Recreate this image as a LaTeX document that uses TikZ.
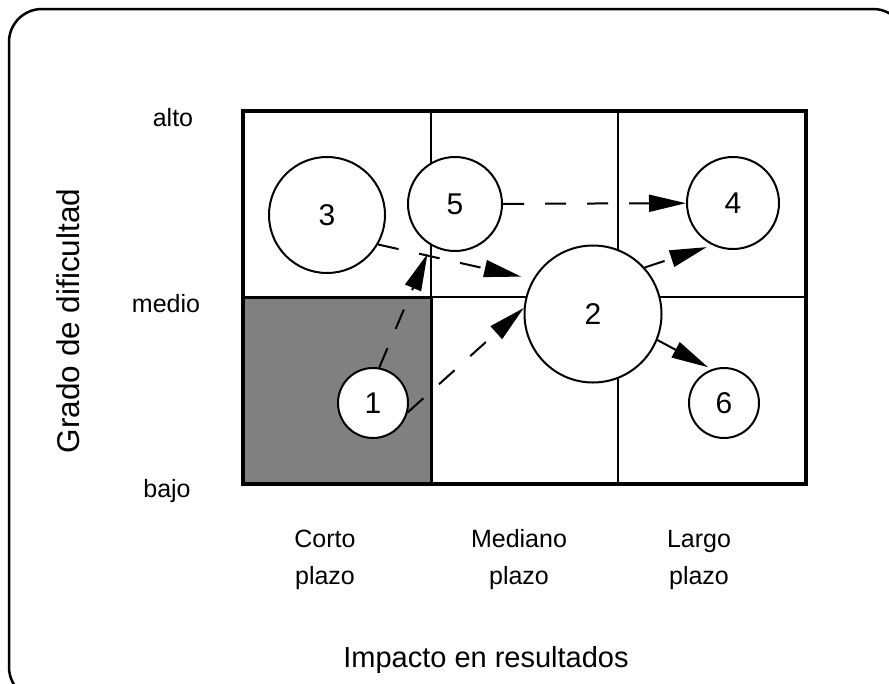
\documentclass[tikz,border=0pt]{standalone}
\usepackage{fontspec}
\setmainfont{Liberation Sans}
\usetikzlibrary{arrows.meta}
\definecolor{cellgray}{RGB}{128,128,128}
\tikzset{
  bub/.style={circle,draw,line width=2pt,fill=white,inner sep=0pt,font=\fontsize{30}{34}\selectfont},
  arr/.style={line width=2pt,dash pattern=on 21pt off 21pt,-{Triangle[length=37pt,width=17pt]}},
  lbl/.style={font=\fontsize{25}{37}\selectfont,align=center},
  ttl/.style={font=\fontsize{29}{34}\selectfont}
}
\begin{document}
\begin{tikzpicture}[x=1pt,y=-1pt]
\useasboundingbox (0,0) rectangle (889,683);
\clip (0,0) rectangle (889,683);
\fill[white] (0,0) rectangle (889,683);
\draw[line width=2.5pt,rounded corners=33pt] (9,9) rectangle (906,700);
% shaded cell
\fill[cellgray] (243,297) rectangle (431,484);
% inner lines
\draw[line width=2pt] (431,111) -- (431,484);
\draw[line width=2pt] (618,111) -- (618,484);
\draw[line width=2pt] (243,297) -- (806,297);
\draw[line width=3pt] (243,297) -- (431,297) -- (431,484);
% outer grid border
\draw[line width=4pt] (243,111) rectangle (806,484);
% bubbles
\node[bub,minimum size=116pt] (n3) at (327,215) {3};
\node[bub,minimum size=94pt] (n5) at (455,204) {5};
\node[bub,minimum size=92pt] (n4) at (733,203) {4};
\node[bub,minimum size=137pt] (n2) at (593,314) {2};
\node[bub,minimum size=70pt] (n1) at (373,403) {1};
\node[bub,minimum size=70pt] (n6) at (724,403) {6};
% arrows
\draw[arr] (n5) -- (n4);
\draw[arr,shorten >=12pt] (n3.-30) -- (n2.150);
\draw[arr,shorten >=9pt] (n1.80) -- (n5.240);
\draw[arr] (n1.-15) -- (n2.175);
\draw[arr,shorten >=6pt] (n2.42) -- (n4.244);
\draw[arr,shorten >=4pt] (n2.-22) -- (n6.110);
% labels
\node[lbl] (alto) at (173,118) {alto};
\node[lbl] (medio) at (166,304) {medio};
\node[lbl] (bajo) at (167,491) {bajo};
\node[lbl] (corto) at (325,560) {Corto\\plazo};
\node[lbl] (mediano) at (519,560) {Mediano\\plazo};
\node[lbl] (largo) at (699,560) {Largo\\plazo};
\node[ttl] (impacto) at (486,660) {Impacto en resultados};
\node[ttl,rotate=90,font=\fontsize{31.5}{36}\selectfont] (grado) at (68,321) {Grado de dificultad};
\end{tikzpicture}
\end{document}
